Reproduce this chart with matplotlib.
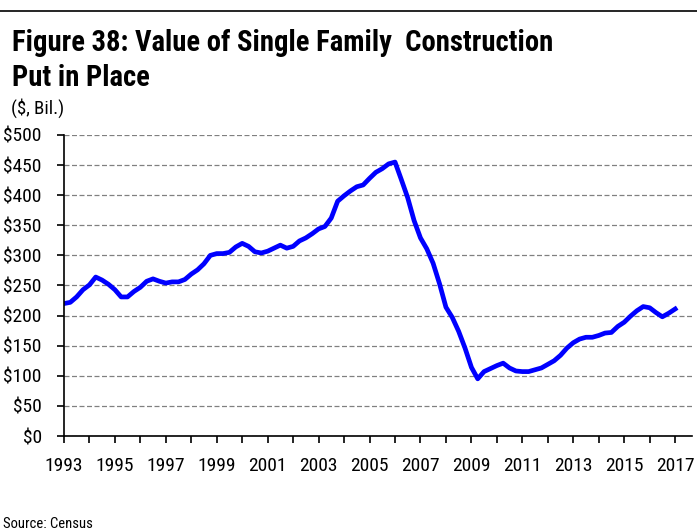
import matplotlib
matplotlib.use("Agg")
import matplotlib.pyplot as plt
from matplotlib import font_manager
from matplotlib.ticker import FuncFormatter, MultipleLocator, FixedLocator
import pandas as pd

# Quarterly value of single family construction put in place ($ bil.), 1993Q1-2017Q1
values = [
    220, 222, 231, 243,   # 1993
    251, 264, 259, 252,   # 1994
    243, 231, 231, 240,   # 1995
    247, 257, 261, 257,   # 1996
    254, 256, 256, 260,   # 1997
    269, 276, 286, 300,   # 1998
    303, 303, 305, 314,   # 1999
    320, 315, 306, 304,   # 2000
    307, 312, 317, 312,   # 2001
    315, 324, 329, 336,   # 2002
    344, 348, 362, 390,   # 2003
    399, 407, 414, 417,   # 2004
    428, 438, 444, 452,   # 2005
    455, 426, 396, 358,   # 2006
    329, 311, 287, 253,   # 2007
    214, 197, 174, 146,   # 2008
    114, 95, 107, 112,    # 2009
    117, 121, 113, 108,   # 2010
    107, 107, 110, 113,   # 2011
    119, 125, 134, 146,   # 2012
    155, 161, 164, 164,   # 2013
    167, 171, 172, 182,   # 2014
    189, 199, 208, 215,   # 2015
    213, 205, 198, 204,   # 2016
    211,                  # 2017
]
dates = pd.date_range("1993-01-01", periods=len(values), freq="QS")
label_years = [1993, 1995, 1997, 1999, 2001, 2003, 2005, 2007, 2009, 2011, 2013, 2015, 2017]
tick_years = list(range(1993, 2018))

title = "Figure 38: Value of Single Family  Construction\nPut in Place"
unit_label = "($, Bil.)"
source = "Source: Census"

# pick a narrow sans (Arial Narrow look-alike) from what is installed
installed = {f.name for f in font_manager.fontManager.ttflist}
narrow = "DejaVu Sans"
for cand in ["Liberation Sans Narrow", "Arial Narrow", "Roboto Condensed",
             "Archivo Narrow", "PT Sans Narrow", "Pragati Narrow"]:
    if cand in installed:
        narrow = cand
        break
plt.rcParams["font.family"] = [narrow, "DejaVu Sans"]

fig = plt.figure(figsize=(6.97, 5.31), dpi=100)
ax = fig.add_axes([0.0918, 0.1789, 0.9010, 0.5669])

ax.plot(dates, values, color="#0000ff", linewidth=3.4, solid_joinstyle="round")

ax.set_ylim(0, 500)
ax.yaxis.set_major_locator(MultipleLocator(50))
ax.yaxis.set_major_formatter(FuncFormatter(lambda v, p: f"${v:.0f}"))
ax.set_xlim(pd.Timestamp("1993-01-01"), pd.Timestamp("2017-08-30"))
ax.xaxis.set_major_locator(FixedLocator(matplotlib.dates.date2num(
    pd.to_datetime([f"{y}-01-01" for y in label_years]))))
ax.xaxis.set_minor_locator(FixedLocator(matplotlib.dates.date2num(
    pd.to_datetime([f"{y}-01-01" for y in tick_years]))))
ax.set_xticklabels([str(y) for y in label_years])

ax.grid(axis="y", color="#808080", linestyle=(0, (4, 2)), linewidth=0.9)
ax.set_axisbelow(True)
for s in ["top", "right"]:
    ax.spines[s].set_visible(False)
for s in ["left", "bottom"]:
    ax.spines[s].set_linewidth(1.2)
ax.tick_params(axis="both", which="both", direction="out", length=5, width=1.2,
               labelsize=14)
ax.tick_params(axis="x", pad=10)
ax.tick_params(axis="y", pad=11)

t = fig.text(0.017, 0.945, title, fontsize=19, fontweight="bold", va="top",
             ha="left", linespacing=1.3)
# fit first title line to ~540 px wide like the reference
first = fig.text(0, 0, title.split("\n")[0], fontsize=19, fontweight="bold")
r = fig.canvas.get_renderer()
w = first.get_window_extent(r).width
first.remove()
t.set_fontsize(19 * 540 / w)
t.set_linespacing(1.3 * 19 / (19 * 540 / w) if w > 540 else 1.3)

fig.text(0.016, 0.797, unit_label, fontsize=13.5, va="center", ha="left")
fig.text(0.005, 0.013, source, fontsize=10.5, va="center", ha="left")
fig.add_artist(plt.Line2D([0, 1], [0.979, 0.979], color="black", linewidth=1.2,
                          transform=fig.transFigure))

fig.savefig("out.png", dpi=100)
